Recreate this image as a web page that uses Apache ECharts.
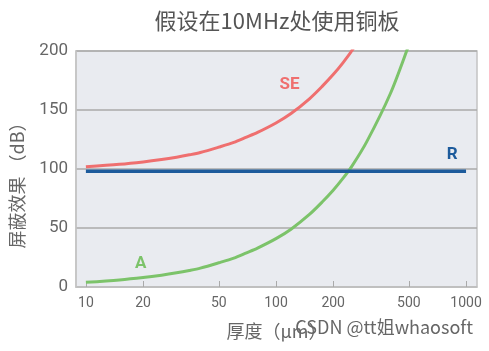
<!DOCTYPE html>
<html>
<head>
<meta charset="utf-8">
<script src="https://cdn.jsdelivr.net/npm/echarts@6/dist/echarts.min.js"></script>
<style>html,body{margin:0;padding:0;background:#fff;}#c{width:489px;height:351px;}</style>
</head>
<body>
<div id="c"></div>
<script>
// Thickness (μm) and shielding values (dB)
const thickness = [10, 15, 20, 25, 30, 35, 40, 50, 60, 70, 80, 100, 120, 150, 175, 200, 225, 250, 300, 400, 500, 520];
const seValues  = [102, 104, 106, 108, 110, 112, 114, 118.5, 122.5, 127, 131, 139, 147, 159.5, 170, 180, 190, 200, 221, 262, 303, 311];
const aValues   = [4, 6, 8, 10, 12, 14, 16, 20.5, 24.5, 29, 33, 41, 49, 61.5, 72, 82, 92, 102, 123, 164, 205, 213];
const rThickness = [10, 1000];
const rValues    = [98, 98];
const xTicks = [10, 20, 50, 100, 200, 500, 1000];
const yTicks = [0, 50, 100, 150, 200];
const xMin = 8.87, xMax = 1142;

const lg = v => Math.log10(v);
const pairs = (xs, ys) => xs.map((x, i) => [lg(x), ys[i]]);

const chart = echarts.init(document.getElementById('c'), null, {renderer: 'canvas'});
const labelFont = '"Noto Sans CJK SC", "Noto Sans", sans-serif';

chart.setOption({
  animation: false,
  title: {
    text: '假设在10MHz处使用铜板',
    left: 272, top: 5, textAlign: 'center',
    textStyle: {fontSize: 22, fontWeight: 'normal', color: '#555', fontFamily: labelFont}
  },
  grid: {
    left: 74, right: 12, top: 51, bottom: 64,
    show: true, backgroundColor: '#e9ebf0', borderColor: '#c4c4c4', borderWidth: 1.5
  },
  xAxis: {
    type: 'value',
    min: lg(xMin), max: lg(xMax),
    name: '厚度（μm）',
    nameLocation: 'middle', nameGap: 35,
    nameTextStyle: {fontSize: 18, color: '#666', fontFamily: labelFont},
    axisLine: {show: true, lineStyle: {color: '#c4c4c4', width: 1.5}},
    axisTick: {show: true, inside: true, length: 6, customValues: xTicks.map(lg), lineStyle: {color: '#aaa', width: 1}},
    axisLabel: {
      customValues: xTicks.map(lg),
      formatter: v => String(Math.round(Math.pow(10, v))),
      fontSize: 14, color: '#666', margin: 9, fontFamily: 'Roboto, sans-serif'
    },
    splitLine: {show: false}
  },
  yAxis: {
    type: 'value', min: 0, max: 200, interval: 50,
    name: '屏蔽效果 （dB）',
    nameLocation: 'middle', nameGap: 50,
    nameTextStyle: {fontSize: 18, color: '#666', fontFamily: labelFont, padding: [0, 24, 0, 0]},
    axisLine: {show: true, lineStyle: {color: '#c4c4c4', width: 1.5}},
    axisTick: {show: false},
    axisLabel: {fontSize: 17, color: '#666', margin: 8, fontFamily: 'Roboto, sans-serif'},
    splitLine: {show: true, lineStyle: {color: '#aaa', width: 1.5}}
  },
  graphic: [{
    type: 'text', right: 16, top: 318,
    style: {text: 'CSDN @tt姐whaosoft', fill: '#666', font: '18px "Noto Sans CJK SC", sans-serif'}
  }],
  series: [
    {
      name: 'R', type: 'line', data: pairs(rThickness, rValues), showSymbol: false,
      lineStyle: {color: '#1d5b9c', width: 3.5}, z: 3,
      markPoint: {symbol: 'circle', symbolSize: 0, silent: true,
        data: [{coord: [lg(845), 112], value: 'R'}],
        label: {show: true, formatter: 'R', color: '#1d5b9c', fontSize: 17, fontWeight: 'bold', fontFamily: 'Roboto, sans-serif'}}
    },
    {
      name: 'SE', type: 'line', data: pairs(thickness, seValues), smooth: 0.3, showSymbol: false,
      lineStyle: {color: '#ef6f6f', width: 3}, z: 2,
      markPoint: {symbol: 'circle', symbolSize: 0, silent: true,
        data: [{coord: [lg(118), 171], value: 'SE'}],
        label: {show: true, formatter: 'SE', color: '#ef6f6f', fontSize: 17, fontWeight: 'bold', fontFamily: 'Roboto, sans-serif'}}
    },
    {
      name: 'A', type: 'line', data: pairs(thickness, aValues), smooth: 0.3, showSymbol: false,
      lineStyle: {color: '#7cc36a', width: 3}, z: 2,
      markPoint: {symbol: 'circle', symbolSize: 0, silent: true,
        data: [{coord: [lg(19.4), 20], value: 'A'}],
        label: {show: true, formatter: 'A', color: '#7cc36a', fontSize: 17, fontWeight: 'bold', fontFamily: 'Roboto, sans-serif'}}
    }
  ]
});
</script>
</body>
</html>
